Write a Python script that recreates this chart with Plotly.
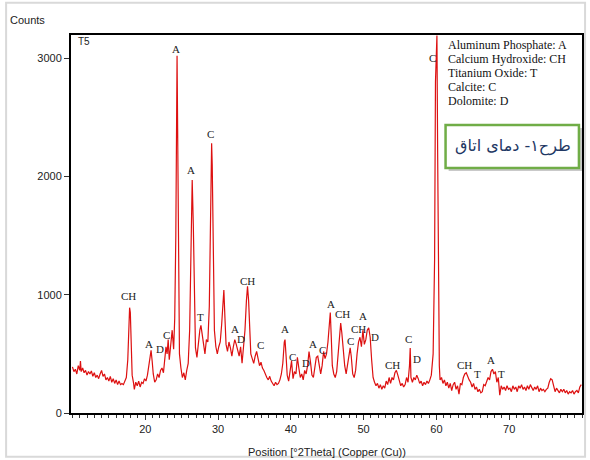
import plotly.graph_objects as go

two_theta = [
    10.0, 10.2, 10.4, 10.6, 10.8, 11.0, 11.1, 11.2, 11.4, 11.6, 11.8, 12.0, 12.2, 12.4, 12.6, 12.8,
    13.0, 13.2, 13.4, 13.6, 13.8, 14.0, 14.2, 14.4, 14.6, 14.8, 15.0, 15.2, 15.4, 15.6, 15.8, 16.0,
    16.2, 16.4, 16.6, 16.8, 17.0, 17.2, 17.4, 17.6, 17.75, 17.85, 17.95, 18.05, 18.2, 18.4, 18.5, 18.7,
    18.9, 19.1, 19.3, 19.5, 19.7, 19.9, 20.1, 20.3, 20.5, 20.7, 20.8, 20.95, 21.1, 21.3, 21.5, 21.7,
    21.9, 22.1, 22.3, 22.5, 22.7, 22.85, 23.0, 23.15, 23.3, 23.5, 23.7, 23.9, 24.05, 24.2, 24.3, 24.37,
    24.45, 24.55, 24.7, 24.9, 25.1, 25.3, 25.5, 25.7, 25.9, 26.1, 26.3, 26.45, 26.6, 26.75, 26.9, 27.1,
    27.3, 27.5, 27.65, 27.8, 28.0, 28.2, 28.4, 28.6, 28.8, 28.95, 29.05, 29.12, 29.2, 29.35, 29.5, 29.7,
    29.9, 30.1, 30.3, 30.5, 30.7, 30.8, 30.95, 31.1, 31.3, 31.5, 31.7, 31.9, 32.1, 32.3, 32.5, 32.7,
    32.9, 33.1, 33.3, 33.5, 33.7, 33.9, 34.05, 34.2, 34.35, 34.5, 34.7, 34.9, 35.1, 35.3, 35.5, 35.7,
    35.9, 36.1, 36.3, 36.5, 36.7, 36.9, 37.1, 37.3, 37.5, 37.7, 37.9, 38.1, 38.3, 38.5, 38.7, 38.9,
    39.1, 39.2, 39.35, 39.5, 39.7, 39.9, 40.1, 40.3, 40.5, 40.7, 40.9, 41.1, 41.3, 41.5, 41.7, 41.9,
    42.1, 42.3, 42.5, 42.7, 42.9, 43.1, 43.3, 43.5, 43.7, 43.9, 44.1, 44.3, 44.5, 44.7, 44.9, 45.1,
    45.3, 45.42, 45.55, 45.7, 45.9, 46.1, 46.3, 46.5, 46.7, 46.85, 47.0, 47.2, 47.4, 47.6, 47.8, 48.0,
    48.15, 48.3, 48.5, 48.7, 48.9, 49.1, 49.3, 49.5, 49.7, 49.9, 50.1, 50.3, 50.5, 50.7, 50.9, 51.1,
    51.3, 51.5, 51.7, 51.9, 52.1, 52.3, 52.5, 52.7, 52.9, 53.1, 53.3, 53.5, 53.7, 53.9, 54.1, 54.3,
    54.5, 54.7, 54.9, 55.1, 55.3, 55.5, 55.7, 55.9, 56.1, 56.3, 56.4, 56.5, 56.7, 56.9, 57.1, 57.3,
    57.5, 57.7, 57.9, 58.1, 58.3, 58.5, 58.7, 58.9, 59.1, 59.3, 59.55, 59.75, 59.87, 59.97, 60.07, 60.17,
    60.27, 60.4, 60.5, 60.7, 60.9, 61.1, 61.3, 61.5, 61.7, 61.9, 62.1, 62.3, 62.5, 62.7, 62.9, 63.1,
    63.3, 63.5, 63.7, 63.9, 64.1, 64.3, 64.5, 64.7, 64.9, 65.1, 65.3, 65.5, 65.7, 65.9, 66.1, 66.3,
    66.5, 66.7, 66.9, 67.1, 67.3, 67.5, 67.7, 67.9, 68.1, 68.3, 68.5, 68.7, 68.9, 69.1, 69.3, 69.5,
    69.7, 69.9, 70.1, 70.3, 70.5, 70.7, 70.9, 71.1, 71.3, 71.5, 71.7, 71.9, 72.1, 72.3, 72.5, 72.7,
    72.9, 73.1, 73.3, 73.5, 73.7, 73.9, 74.1, 74.3, 74.5, 74.7, 74.9, 75.1, 75.3, 75.5, 75.7, 75.9,
    76.1, 76.3, 76.5, 76.7, 76.9, 77.1, 77.3, 77.5, 77.7, 77.9, 78.1, 78.3, 78.5, 78.7, 78.9, 79.1,
    79.3, 79.5, 79.7, 79.9,
]

counts = [
    390, 350, 370, 330, 400, 360, 440, 350, 380, 340, 360, 320, 350, 330, 355, 310,
    340, 300, 320, 290, 330, 360, 310, 330, 280, 300, 270, 310, 260, 290, 250, 280,
    240, 270, 240, 250, 240, 270, 300, 450, 800, 890, 850, 600, 320, 250, 200, 260,
    230, 270, 220, 260, 250, 290, 270, 320, 400, 500, 530, 440, 330, 260, 280, 330,
    300, 360, 380, 340, 450, 560, 500, 620, 450, 560, 700, 540, 800, 1500, 2700, 3020,
    2400, 1200, 500, 380, 300, 340, 280, 360, 420, 700, 1400, 1970, 1600, 900, 550, 470,
    600, 700, 740, 680, 560, 500, 620, 600, 900, 1600, 2150, 2280, 2100, 1300, 700, 560,
    500, 560, 600, 750, 1000, 1040, 800, 580, 520, 600, 550, 480, 560, 620, 580, 540,
    480, 560, 420, 560, 700, 950, 1070, 950, 700, 500, 460, 420, 480, 520, 460, 400,
    430, 380, 360, 320, 300, 280, 310, 270, 250, 230, 260, 240, 250, 280, 330, 420,
    600, 620, 480, 320, 270, 360, 440, 290, 350, 330, 470, 380, 300, 330, 280, 360,
    330, 400, 520, 430, 320, 300, 370, 470, 480, 390, 330, 400, 520, 460, 500, 600,
    800, 850, 650, 400, 330, 300, 350, 500, 700, 760, 680, 500, 400, 330, 420, 520,
    550, 480, 330, 300, 360, 500, 600, 640, 560, 700, 580, 620, 700, 720, 640, 450,
    300, 260, 230, 250, 210, 240, 200, 230, 210, 270, 240, 300, 250, 300, 280, 340,
    360, 320, 260, 230, 250, 220, 240, 300, 260, 400, 550, 300, 260, 300, 280, 320,
    290, 250, 270, 230, 260, 240, 270, 250, 280, 320, 500, 1300, 2800, 3190, 3190, 2200,
    900, 400, 280, 300, 250, 280, 230, 260, 210, 250, 190, 240, 260, 200, 230, 160,
    250, 240, 300, 330, 340, 300, 280, 260, 220, 250, 200, 220, 180, 200, 170, 180,
    240, 230, 260, 300, 280, 350, 370, 330, 350, 260, 300, 150, 230, 200, 220, 190,
    230, 200, 210, 180, 230, 200, 220, 180, 230, 210, 240, 200, 220, 190, 230, 200,
    240, 210, 190, 220, 200, 230, 180, 210, 190, 200, 180, 200, 210, 260, 290, 280,
    220, 180, 210, 190, 170, 200, 180, 200, 170, 190, 160, 180, 170, 190, 160, 180,
    190, 170, 220, 240,
]

peak_text = ["CH", "A", "D", "C", "A", "A", "T", "C", "A", "D", "CH", "C",
             "A", "C", "D", "A", "C", "A", "CH", "C", "CH", "A", "D",
             "CH", "C", "D", "C", "CH", "T", "A", "T"]
peak_x = [17.7, 20.5, 22.0, 22.9, 24.2, 26.3, 27.6, 29.0, 32.3, 33.1, 34.05, 35.8,
          39.2, 40.2, 42.1, 43.1, 44.4, 45.5, 47.1, 48.2, 49.3, 49.9, 51.5,
          54.0, 56.2, 57.3, 59.4, 63.9, 65.6, 67.5, 69.0]
peak_y = [990, 585, 540, 660, 3080, 2050, 810, 2355, 710, 625, 1115, 575,
          710, 475, 425, 585, 535, 925, 840, 610, 710, 820, 645,
          405, 625, 455, 3000, 405, 330, 450, 330]

phases = ["Aluminum Phosphate: A", "Calcium Hydroxide: CH", "Titanium Oxide: T",
          "Calcite: C", "Dolomite: D"]

fig = go.Figure()
fig.add_trace(go.Scatter(x=two_theta, y=counts, mode="lines",
                         line=dict(color="#dd1010", width=1.2), showlegend=False))

ann = []
for t, x, y in zip(peak_text, peak_x, peak_y):
    ann.append(dict(x=x, y=y, text=t, showarrow=False, xref="x", yref="y",
                    font=dict(family="Liberation Serif", size=11, color="#222")))

for i, p in enumerate(phases):
    ann.append(dict(x=0.733, y=0.9735 - i * 0.037, xref="paper", yref="paper",
                    text=p, showarrow=False, xanchor="left", yanchor="middle",
                    font=dict(family="Liberation Serif", size=12, color="#111")))

ann += [
    dict(x=-0.1228, y=1.04, xref="paper", yref="paper", text="Counts", showarrow=False,
         xanchor="left", yanchor="middle", font=dict(family="Liberation Sans", size=11, color="#222")),
    dict(x=0.0097, y=0.9815, xref="paper", yref="paper", text="T5", showarrow=False,
         xanchor="left", yanchor="middle", font=dict(family="Liberation Sans", size=10, color="#222")),
    dict(x=0.501, y=-0.103, xref="paper", yref="paper", text="Position [°2Theta] (Copper (Cu))",
         showarrow=False, xanchor="center", yanchor="middle",
         font=dict(family="Liberation Sans", size=11, color="#222")),
    dict(x=0.8655, y=0.706, xref="paper", yref="paper", text="طرح۱- دمای اتاق", showarrow=False,
         xanchor="center", yanchor="middle",
         font=dict(family="DejaVu Sans", size=16, color="#1f3864")),
]

shapes = [
    dict(type="rect", xref="paper", yref="paper", x0=-0.127, x1=1.006, y0=-0.116, y1=1.085,
         line=dict(color="#d9d9d9", width=2), fillcolor="rgba(0,0,0,0)", layer="below"),
    dict(type="rect", xref="paper", yref="paper", x0=0.739, x1=1.0, y0=0.640, y1=0.754,
         line=dict(width=0), fillcolor="rgba(120,120,120,0.4)"),
    dict(type="rect", xref="paper", yref="paper", x0=0.733, x1=0.994, y0=0.648, y1=0.762,
         line=dict(color="#70ad47", width=2.5), fillcolor="white"),
]

fig.update_layout(
    width=590, height=460,
    margin=dict(l=71, r=6, t=35, b=47),
    paper_bgcolor="white", plot_bgcolor="white",
    annotations=ann, shapes=shapes,
    xaxis=dict(range=[9.8, 80.0], tickvals=[20, 30, 40, 50, 60, 70], ticks="outside",
               ticklen=5, tickcolor="#333", showgrid=False, zeroline=False,
               showline=True, mirror=True, linecolor="black", linewidth=2,
               tickfont=dict(family="Liberation Sans", size=11, color="#222"),
               minor=dict(tickmode="linear", tick0=0, dtick=1, ticks="outside",
                          ticklen=3, tickcolor="#333")),
    yaxis=dict(range=[0, 3195], tickvals=[0, 1000, 2000, 3000], ticks="outside",
               ticklen=5, tickcolor="#333", showgrid=False, zeroline=False,
               showline=True, mirror=True, linecolor="black", linewidth=2,
               tickfont=dict(family="Liberation Sans", size=11, color="#222")),
)

fig.write_html("out.html")
